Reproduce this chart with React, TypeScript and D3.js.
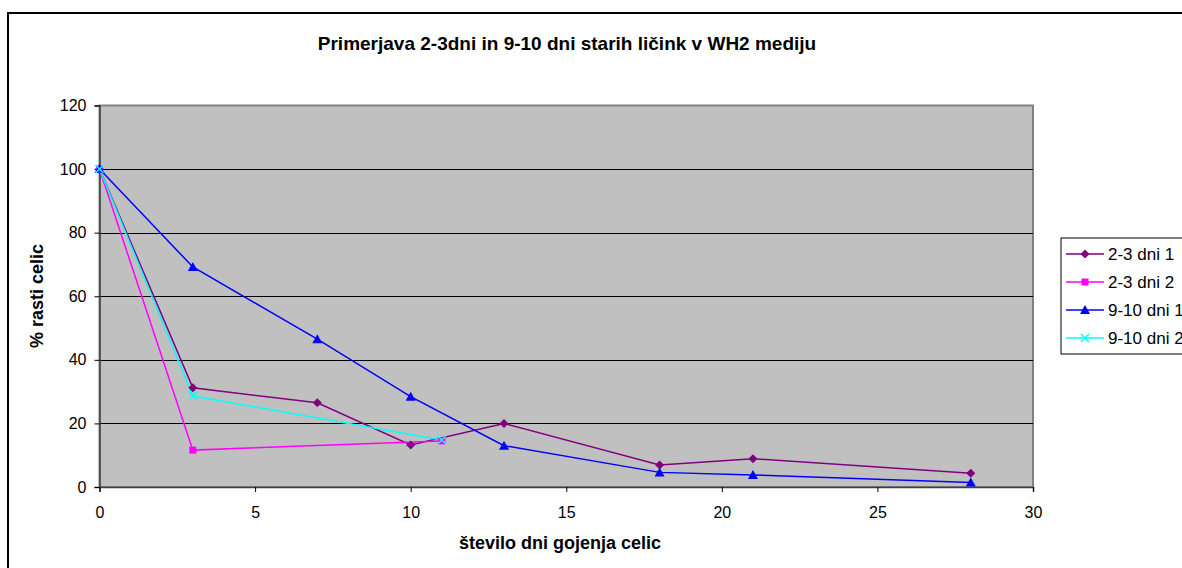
import { useRef, useEffect } from 'react';
import * as d3 from 'd3';

// days of cultivation
const daysLong = [0, 3, 7, 10, 13, 18, 21, 28];
const daysShort = [0, 3, 11];

// % of cell growth
const young1 = [100, 31.2, 26.5, 13.2, 20.0, 6.9, 8.9, 4.3];
const young2 = [100, 11.6, 14.5];
const old1 = [100, 69.2, 46.5, 28.4, 13.0, 4.6, 3.8, 1.4];
const old2 = [100, 28.6, 14.8];

const seriesLabels = ['2-3 dni 1', '2-3 dni 2', '9-10 dni 1', '9-10 dni 2'];
const yTicks = [0, 20, 40, 60, 80, 100, 120];
const xTicks = [0, 5, 10, 15, 20, 25, 30];

type Marker = 'diamond' | 'square' | 'triangle' | 'cross';

interface Series {
  label: string;
  xs: number[];
  ys: number[];
  color: string;
  marker: Marker;
}

const series: Series[] = [
  { label: seriesLabels[0], xs: daysLong, ys: young1, color: '#800080', marker: 'diamond' },
  { label: seriesLabels[1], xs: daysShort, ys: young2, color: '#FF00FF', marker: 'square' },
  { label: seriesLabels[2], xs: daysLong, ys: old1, color: '#0000FF', marker: 'triangle' },
  { label: seriesLabels[3], xs: daysShort, ys: old2, color: '#00FFFF', marker: 'cross' },
];

const FONT = '"Liberation Sans", Arial, sans-serif';

function drawMarker(
  g: d3.Selection<SVGGElement, unknown, null, undefined>,
  kind: Marker,
  cx: number,
  cy: number,
  color: string
) {
  if (kind === 'diamond') {
    g.append('path')
      .attr('d', `M${cx},${cy - 4.5}L${cx + 4.5},${cy}L${cx},${cy + 4.5}L${cx - 4.5},${cy}Z`)
      .attr('fill', color);
  } else if (kind === 'square') {
    g.append('rect')
      .attr('x', cx - 3.5)
      .attr('y', cy - 3.5)
      .attr('width', 7)
      .attr('height', 7)
      .attr('fill', color);
  } else if (kind === 'triangle') {
    g.append('path')
      .attr('d', `M${cx},${cy - 5}L${cx + 5},${cy + 4}L${cx - 5},${cy + 4}Z`)
      .attr('fill', color);
  } else {
    g.append('path')
      .attr('d', `M${cx - 4},${cy - 4}L${cx + 4},${cy + 4}M${cx - 4},${cy + 4}L${cx + 4},${cy - 4}`)
      .attr('stroke', color)
      .attr('stroke-width', 1.5)
      .attr('fill', 'none');
  }
}

function GrowthChart() {
  const ref = useRef<SVGSVGElement | null>(null);

  useEffect(() => {
    const svg = d3.select(ref.current);
    svg.selectAll('*').remove();

    const plot = { left: 99.5, right: 1033, top: 105.5, bottom: 487 };

    const x = d3.scaleLinear().domain([0, 30]).range([plot.left, plot.right]);
    const y = d3.scaleLinear().domain([0, 120]).range([plot.bottom, plot.top]);

    // outer chart frame
    svg.append('rect')
      .attr('x', 8)
      .attr('y', 13)
      .attr('width', 1300)
      .attr('height', 700)
      .attr('fill', '#fff')
      .attr('stroke', '#000')
      .attr('stroke-width', 2);

    // title
    svg.append('text')
      .attr('x', 567)
      .attr('y', 50)
      .attr('text-anchor', 'middle')
      .style('font-family', FONT)
      .style('font-size', '19px')
      .style('font-weight', 'bold')
      .text('Primerjava 2-3dni in 9-10 dni starih ličink v WH2 mediju');

    // plot area
    svg.append('rect')
      .attr('x', plot.left)
      .attr('y', plot.top)
      .attr('width', plot.right - plot.left)
      .attr('height', plot.bottom - plot.top)
      .attr('fill', '#C0C0C0')
      .attr('stroke', '#808080')
      .attr('stroke-width', 2);

    // gridlines
    svg.append('g')
      .selectAll('line')
      .data(yTicks.filter(t => t > 0 && t < 120))
      .join('line')
      .attr('x1', plot.left)
      .attr('x2', plot.right)
      .attr('y1', d => Math.round(y(d)) + 0.5)
      .attr('y2', d => Math.round(y(d)) + 0.5)
      .attr('stroke', '#000')
      .attr('stroke-width', 1);

    // axes
    const yAxis = svg.append('g')
      .attr('transform', `translate(${plot.left},0)`)
      .call(d3.axisLeft(y).tickValues(yTicks).tickSize(5).tickPadding(8));
    const xAxis = svg.append('g')
      .attr('transform', `translate(0,${plot.bottom})`)
      .call(d3.axisBottom(x).tickValues(xTicks).tickSize(5).tickPadding(15));

    [yAxis, xAxis].forEach(a => {
      a.select('.domain').attr('stroke', '#404040').attr('stroke-width', 1.5);
      a.selectAll('.tick line').attr('stroke', '#000');
      a.selectAll('.tick text')
        .attr('fill', '#000')
        .style('font-family', FONT)
        .style('font-size', '16px');
    });

    // axis titles
    svg.append('text')
      .attr('x', 560)
      .attr('y', 549)
      .attr('text-anchor', 'middle')
      .style('font-family', FONT)
      .style('font-size', '18px')
      .style('font-weight', 'bold')
      .text('število dni gojenja celic');

    svg.append('text')
      .attr('transform', 'translate(43,296) rotate(-90)')
      .attr('text-anchor', 'middle')
      .style('font-family', FONT)
      .style('font-size', '18px')
      .style('font-weight', 'bold')
      .text('% rasti celic');

    // lines and markers
    const lines = svg.append('g');
    series.forEach(s => {
      const pts = s.xs.map((d, i) => [d, s.ys[i]] as [number, number]);
      const line = d3.line<[number, number]>()
        .x(d => x(d[0]))
        .y(d => y(d[1]));
      lines.append('path')
        .datum(pts)
        .attr('fill', 'none')
        .attr('stroke', s.color)
        .attr('stroke-width', 1.5)
        .attr('d', line);
    });
    series.forEach(s => {
      const mg = svg.append('g');
      s.xs.forEach((d, i) => drawMarker(mg, s.marker, x(d), y(s.ys[i]), s.color));
    });

    // legend
    const legend = svg.append('g').attr('transform', 'translate(1061,238)');
    legend.append('rect')
      .attr('width', 200)
      .attr('height', 116)
      .attr('fill', '#fff')
      .attr('stroke', '#000')
      .attr('stroke-width', 1);

    series.forEach((s, i) => {
      const cy = 16 + i * 28;
      legend.append('line')
        .attr('x1', 5)
        .attr('x2', 43)
        .attr('y1', cy)
        .attr('y2', cy)
        .attr('stroke', s.color)
        .attr('stroke-width', 1.5);
      drawMarker(legend, s.marker, 24, cy, s.color);
      legend.append('text')
        .attr('x', 47)
        .attr('y', cy + 6)
        .style('font-family', FONT)
        .style('font-size', '17px')
        .text(s.label);
    });
  }, []);

  return (
    <svg
      ref={ref}
      width={1182}
      height={568}
      style={{ position: 'absolute', left: 0, top: 0, background: '#fff' }}
    ></svg>
  );
}

export default function App() {
  return <GrowthChart />;
}
